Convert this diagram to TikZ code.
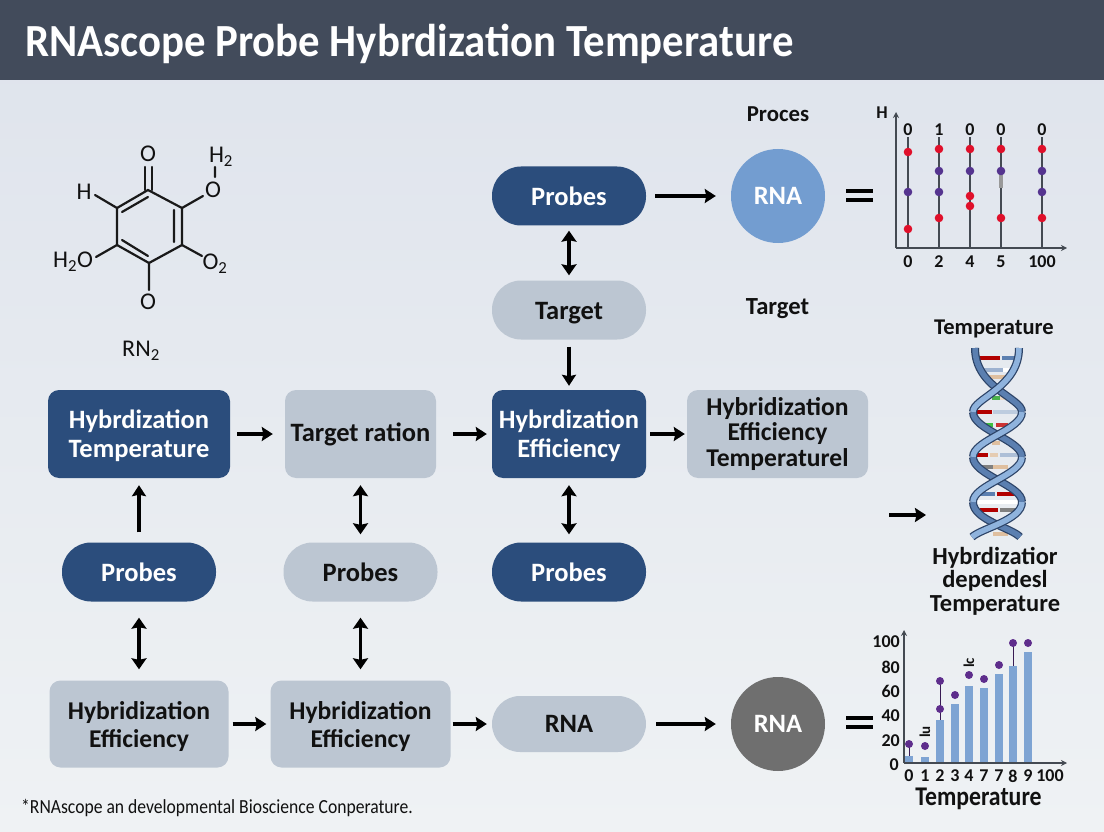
\documentclass[tikz,border=0pt]{standalone}
\usepackage{fontspec}
\setmainfont{Carlito}
\usetikzlibrary{arrows.meta}
\definecolor{hdr}{HTML}{424B5B}
\definecolor{bgtop}{HTML}{DEE3EC}
\definecolor{bgbot}{HTML}{EFF2F4}
\definecolor{navy}{HTML}{2B4D7C}
\definecolor{pale}{HTML}{BCC6D2}
\definecolor{skyb}{HTML}{739DD0}
\definecolor{greyc}{HTML}{6F6F6F}
\definecolor{inkk}{HTML}{111111}
\definecolor{redd}{HTML}{E0102A}
\definecolor{purp}{HTML}{55348F}
\definecolor{purq}{HTML}{5E2D8C}
\definecolor{barb}{HTML}{7EA4D3}
\definecolor{axisg}{HTML}{444A52}
\definecolor{outl}{HTML}{2D4468}
\definecolor{strl}{HTML}{8FB3DD}
\definecolor{strd}{HTML}{5B7FB0}
\newcommand{\dnn}{\rule{0pt}{23pt}}
\tikzset{
  lab/.style={font=\bfseries\fontsize{26.5}{29}\selectfont,align=center,text=inkk,inner sep=0pt},
  wlab/.style={lab,text=white},
  navyrect/.style={wlab,fill=navy,rounded corners=11pt,minimum width=#1,minimum height=88pt},
  palerect/.style={lab,fill=pale,rounded corners=11pt,minimum width=#1,minimum height=88pt},
  navypill/.style={wlab,fill=navy,rounded corners=29pt,minimum width=154pt,minimum height=59pt},
  palepill/.style={lab,fill=pale,rounded corners=29pt,minimum width=154pt,minimum height=59pt},
  disc/.style={wlab,circle,minimum size=94pt},
  arr/.style={draw=black,line width=3.4pt,-{Stealth[length=11pt,width=14pt,inset=1.5pt]}},
  dbl/.style={draw=black,line width=3.4pt,{Stealth[length=11pt,width=15pt,inset=1.5pt]}-{Stealth[length=11pt,width=15pt,inset=1.5pt]}},
  bond/.style={draw=black!90,line width=2.2pt,line cap=round},
  chem/.style={font=\fontsize{24}{26}\selectfont,text=inkk,inner sep=0pt},
  tick/.style={font=\bfseries\fontsize{18}{20}\selectfont,text=inkk,inner sep=0pt},
  axisl/.style={draw=axisg,line width=1.3pt,-{Stealth[length=6pt,width=6pt]}},
  stem/.style={draw=axisg,line width=1.6pt},
  strandback/.style={line width=8pt,draw=outl},
  strandbacki/.style={line width=5.5pt,draw=strd},
  strandfront/.style={line width=8pt,draw=outl},
  strandfronti/.style={line width=5.5pt,draw=strl},
}
\begin{document}
\begin{tikzpicture}[x=1pt,y=-1pt]
\useasboundingbox (0,0) rectangle (1104,832);
\shade[top color=bgtop,bottom color=bgbot] (0,0) rectangle (1104,832);
\fill[hdr] (0,0) rectangle (1104,80);
\node[anchor=west,text=white,font=\bfseries\fontsize{46}{48}\selectfont,inner sep=0pt] (title) at (25,44) {\scalebox{0.93}[1]{RNAscope Probe Hybrdization Temperature}};

% flow nodes
\node[navypill] (p1) at (569,196) {Probes};
\node[disc,fill=skyb] (rna1) at (778,196) {RNA};
\node[palepill] (t1) at (569,310) {\dnn Target};
\node[navyrect=182pt] (ht) at (139,434) {\dnn Hybrdization\\Temperature};
\node[palerect=151pt] (tr) at (360.5,434) {Target ration};
\node[navyrect=154pt] (he) at (569,434) {\dnn Hybrdization\\Efficiency};
\node[palerect=181pt,font=\bfseries\fontsize{25.6}{25.5}\selectfont] (het) at (777.5,434) {Hybridization\\Efficiency\\Temperaturel};
\node[navypill] (p2) at (139,572) {Probes};
\node[palepill] (p3) at (360.5,572) {Probes};
\node[navypill] (p4) at (569,572) {Probes};
\node[palerect=179pt,minimum height=87pt,font=\bfseries\fontsize{25.6}{28}\selectfont] (e1) at (139,724) {\dnn Hybridization\\Efficiency};
\node[palerect=180pt,minimum height=87pt,font=\bfseries\fontsize{25.6}{28}\selectfont] (e2) at (360.5,724) {\dnn Hybridization\\Efficiency};
\node[palepill,minimum height=56pt,rounded corners=28pt] (r2) at (569,724) {RNA};
\node[disc,fill=greyc] (rna2) at (778,724) {RNA};

% free labels
\node[lab,font=\bfseries\fontsize{22.8}{25}\selectfont] (l1) at (778,114) {Proces};
\node[lab,font=\bfseries\fontsize{24.6}{26}\selectfont] (l2) at (777.5,309) {Target};
\node[lab,font=\bfseries\fontsize{22.5}{25}\selectfont] (l3) at (994,329) {Temperature};
\node[lab,font=\bfseries\fontsize{24.5}{23.5}\selectfont] (l4) at (995,581) {Hybrdizatior\\dependesl\\Temperature};
\node[anchor=west,inner sep=0pt,text=inkk,font=\fontsize{20}{22}\selectfont] (foot) at (21,808) {\scalebox{0.88}[1]{*RNAscope an developmental Bioscience Conperature.}};

% connectors
\coordinate (dnain) at (926,515);
\coordinate (dnafrom) at (889,515);
\draw[arr] ([xshift=9pt]p1.east) -- ([xshift=-15pt]rna1.west);
\draw[dbl] ([yshift=-5pt]p1.south) -- ([yshift=5pt]t1.north);
\draw[arr] ([yshift=-7pt]t1.south) -- ([yshift=4pt]he.north);
\draw[arr] ([xshift=7pt]ht.east) -- ([xshift=-12pt]tr.west);
\draw[arr] ([xshift=17pt]tr.east) -- ([xshift=-5pt]he.west);
\draw[arr] ([xshift=4pt]he.east) -- ([xshift=-2pt]het.west);
\draw[arr] ([yshift=10pt]p2.north) -- ([yshift=-7pt]ht.south);
\draw[dbl] ([yshift=-7pt]tr.south) -- ([yshift=8pt]p3.north);
\draw[dbl] ([yshift=-7pt]he.south) -- ([yshift=8pt]p4.north);
\draw[dbl] ([yshift=-16pt]p2.south) -- ([yshift=11pt]e1.north);
\draw[dbl] ([yshift=-16pt]p3.south) -- ([yshift=11pt]e2.north);
\draw[arr] ([xshift=4pt]e1.east) -- ([xshift=-4pt]e2.west);
\draw[arr] ([xshift=2pt]e2.east) -- ([xshift=-5pt]r2.west);
\draw[arr] ([xshift=10pt]r2.east) -- ([xshift=-15pt]rna2.west);
\draw[arr] (dnafrom) -- (dnain);

% equals signs
\draw[black,line width=3.5pt] (846,191) -- (873,191) (846,200) -- (873,200);
\draw[black,line width=3.5pt] (846,718) -- (873,718) (846,727) -- (873,727);

% molecule
\draw[bond] (148,190) -- (182,208) -- (182,245) -- (149,263) -- (117,245) -- (117,208) -- cycle;
\draw[bond] (122,212) -- (148,197) (174,210) -- (174,242) (122,240) -- (148,256);
\draw[bond] (145,167) -- (145,190) (152,167) -- (152,190);
\draw[bond] (95,195) -- (117,208) (182,208) -- (203,196) (215,167) -- (215,177);
\draw[bond] (182,245) -- (202,256) (117,245) -- (96,257) (149,263) -- (149,290);
\node[chem] (o1) at (148,154) {O};
\node[chem] (h1) at (84,192) {H};
\node[chem] (o2) at (213,190) {O};
\node[chem] (h2) at (221,157) {H\textsubscript{2}};
\node[chem] (o3) at (215,264) {O\textsubscript{2}};
\node[chem] (h3) at (73,262) {H\textsubscript{2}O};
\node[chem] (o4) at (148,302) {O};
\node[chem] (rn) at (141,351) {RN\textsubscript{2}};

% dot chart
\draw[axisl] (896,248) -- (896,112);
\draw[axisl] (896,248) -- (1067,248);
\node[tick] (hh) at (882,113) {H};
\foreach \x/\a/\b in {908/0/0,939/1/2,970/0/4,1001/0/5,1042/0/100}{
  \draw[stem] (\x,248) -- (\x,137);
  \node[tick] (top\x) at (\x,130) {\a};
  \node[tick] (bot\x) at (\x,262) {\b};
}
\fill[gray!80] (999,172) rectangle (1003,188);
\foreach \x/\y in {908/152,908/229,939/149,939/218,970/149,970/196,970/206,1001/149,1001/218,1042/149,1042/218}
  \fill[redd] (\x,\y) circle (4.3pt);
\foreach \x/\y in {908/192,939/171,939/192,970/171,1001/171,1042/171,1042/192}
  \fill[purp] (\x,\y) circle (4.3pt);

% DNA rungs
\foreach \a/\b/\y/\c in {975/1000/358/red!70!black,1002/1017/358/strd,
   980/1003/370/strd!60,1003/1012/370/white,985/1005/377/brown!50,
   992/1000/398/green!40!gray,1000/1008/398/brown!30,
   977/992/412/red!70!black,993/1018/412/strd!40,
   982/993/425/green!50!gray,996/1008/425/red!60!gray,
   992/1000/443/brown!50,
   977/988/455/red!70!black,990/998/455/brown!40,1000/1018/455/strd!50,
   980/993/467/gray,993/1008/467/brown!50,
   978/995/494/strd,997/1017/494/red!70!black,
   976/1018/502/white,
   980/998/510/red!70!black,1000/1017/510/gray,
   993/1008/534/brown!50}
  \fill[\c] (\a,\y-1.8) rectangle (\b,\y+1.8);

% DNA strands: the back pass, then the front pass
\def\bA{(975,348) .. controls (975,388) and (1022,398) .. (1022,412)}
\def\bB{(973,412) .. controls (973,430) and (1022,440) .. (1022,457)}
\def\bC{(973,457) .. controls (973,475) and (1022,485) .. (1022,502)}
\def\bD{(973,502) .. controls (973,520) and (1012,528) .. (1020,537)}
\def\fA{(1019,348) .. controls (1019,388) and (973,398) .. (973,412)}
\def\fB{(1022,412) .. controls (1022,430) and (973,440) .. (973,457)}
\def\fC{(1022,457) .. controls (1022,475) and (973,485) .. (973,502)}
\def\fD{(1022,502) .. controls (1022,520) and (982,528) .. (972,537)}
\foreach \p in {\bA,\bB,\bC,\bD}{\draw[strandback] \p; \draw[strandbacki] \p;}
\foreach \p in {\fA,\fB,\fC,\fD}{\draw[strandfront] \p; \draw[strandfronti] \p;}

% bar chart
\foreach \x/\y in {909/756,925/757,940/720,955/704,969/686,984/688,999/674,1013/666,1028/652}
  \fill[barb] (\x-3.6,\y) rectangle (\x+3.6,763);
\draw[axisl] (904,763) -- (904,630);
\draw[axisl] (904,763) -- (1067,763);
\foreach \lbl/\y in {100/642,80/667,60/691,40/716,20/741}
  \node[tick,anchor=east] (yl\lbl) at (900,\y) {\lbl};
\node[tick,anchor=east] (yl0) at (899,765) {0};
\foreach \n/\x/\t in {a/909/0,b/925/1,c/940/2,d/955/3,e/969/4,f/984/7,g/999/7,h/1013/8,i/1028/9,j/1050/100}
  \node[tick] (xl\n) at (\x,776) {\t};
\draw[stem,draw=purq!60!black,line width=1pt] (909,744) -- (909,756) (940,681) -- (940,720) (1013,643) -- (1013,666);
\foreach \x/\y in {909/744,925/746,940/681,940/709,955/695,969/675,984/679,999/665,1013/643,1028/643}
  \fill[purq] (\x,\y) circle (4pt);
\node[tick,rotate=90,font=\bfseries\fontsize{15}{16}\selectfont] (rl1) at (925,732) {lu};
\node[tick,rotate=90,font=\bfseries\fontsize{15}{16}\selectfont] (rl2) at (969,663) {lc};
\node[lab,font=\bfseries\fontsize{27}{29}\selectfont] (xt) at (978.5,799) {\scalebox{0.88}[1]{Temperature}};
\end{tikzpicture}
\end{document}
